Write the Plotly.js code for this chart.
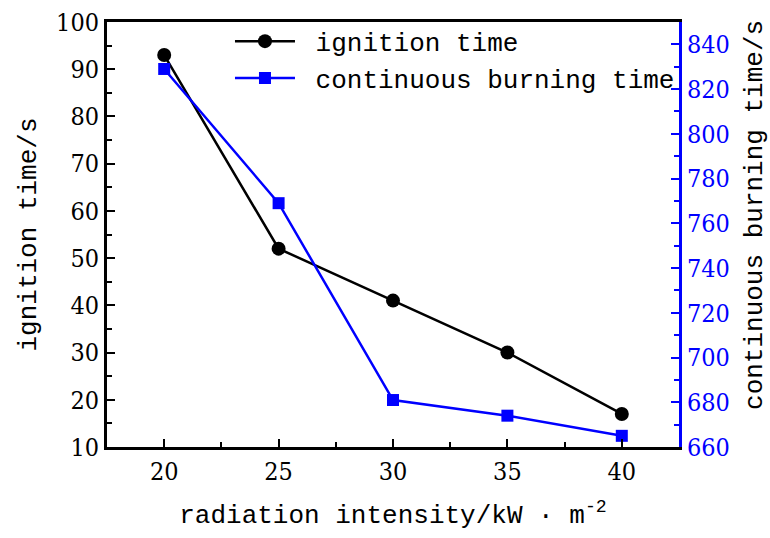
<!DOCTYPE html>
<html>
<head>
<meta charset="utf-8">
<script src="https://cdn.plot.ly/plotly-3.0.1.min.js"></script>
<style>html,body{margin:0;padding:0;background:#fff;}#chart{width:770px;height:538px;}</style>
</head>
<body>
<div id="chart"></div>
<script>
var radiation = [20, 25, 30, 35, 40];
var ignitionTime = [93, 52, 41, 30, 17];
var burningTime = [829, 769, 681, 674, 665];
var xTicks = [20, 25, 30, 35, 40];

var mono = 'Liberation Mono, monospace';
var numFont = 'DejaVu Serif Condensed, Liberation Serif, serif';

var traces = [
  {
    x: radiation, y: ignitionTime, name: '\u00a0ignition time', type: 'scatter', mode: 'lines+markers',
    line: {color: '#000000', width: 2.5},
    marker: {symbol: 'circle', size: 14, color: '#000000'},
    yaxis: 'y'
  },
  {
    x: radiation, y: burningTime, name: '\u00a0continuous burning time', type: 'scatter', mode: 'lines+markers',
    line: {color: '#0000ff', width: 2.5},
    marker: {symbol: 'square', size: 12, color: '#0000ff'},
    yaxis: 'y2'
  }
];

var layout = {
  width: 770, height: 538,
  margin: {l: 107, r: 91, t: 22, b: 91},
  paper_bgcolor: '#ffffff', plot_bgcolor: '#ffffff',
  showlegend: true,
  legend: {x: 0.215, y: 1.01, xanchor: 'left', yanchor: 'top', bgcolor: 'rgba(0,0,0,0)',
           font: {family: mono, size: 26, color: '#000'}, tracegroupgap: 0, itemwidth: 60},
  xaxis: {
    range: [17.5, 42.5], tickvals: xTicks, ticktext: xTicks.map(String),
    ticks: 'inside', ticklen: 8, tickwidth: 2, tickcolor: '#000',
    minor: {ticks: 'inside', dtick: 2.5, tick0: 17.5, ticklen: 5, tickwidth: 2, tickcolor: '#000'},
    showline: true, linecolor: '#000', linewidth: 3, mirror: true,
    showgrid: false, zeroline: false,
    tickfont: {family: numFont, size: 25, color: '#000'},
    title: {text: 'radiation intensity/kW · m<sup>-2</sup>', font: {family: mono, size: 26, color: '#000'}, standoff: 20}
  },
  yaxis: {
    range: [10, 100], dtick: 10, tick0: 10,
    ticks: 'inside', ticklen: 8, tickwidth: 2, tickcolor: '#000',
    minor: {ticks: 'inside', dtick: 5, ticklen: 5, tickwidth: 2, tickcolor: '#000'},
    showline: true, linecolor: '#000', linewidth: 3, mirror: false,
    showgrid: false, zeroline: false,
    tickfont: {family: numFont, size: 25, color: '#000'},
    title: {text: 'ignition time/s', font: {family: mono, size: 26, color: '#000'}, standoff: 12}
  },
  yaxis2: {
    overlaying: 'y', side: 'right', range: [660, 850], dtick: 20, tick0: 660,
    ticks: 'inside', ticklen: 8, tickwidth: 2, tickcolor: '#0000ff',
    minor: {ticks: 'inside', dtick: 10, ticklen: 5, tickwidth: 2, tickcolor: '#0000ff'},
    showline: true, linecolor: '#0000ff', linewidth: 3,
    showgrid: false, zeroline: false,
    tickfont: {family: numFont, size: 25, color: '#0000ff'}
  },
  annotations: [{
    text: 'continuous burning time/s', textangle: -90,
    xref: 'paper', yref: 'paper', x: 1.0, xshift: 76, xanchor: 'center',
    y: 0.546, yanchor: 'middle', showarrow: false,
    font: {family: mono, size: 26, color: '#000'}
  }]
};

Plotly.newPlot('chart', traces, layout, {displayModeBar: false, staticPlot: true});
</script>
</body>
</html>
